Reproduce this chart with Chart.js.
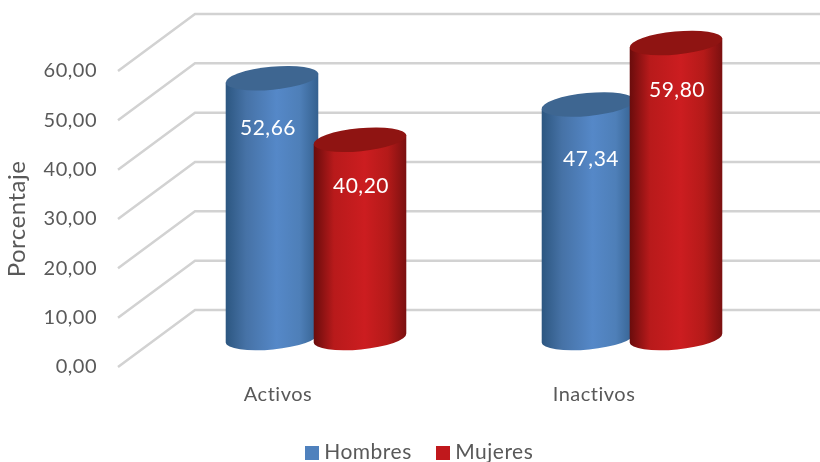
<!DOCTYPE html>
<html>
<head>
<meta charset="utf-8">
<style>
  html, body { margin: 0; padding: 0; background: #fff; }
  #wrap { position: relative; width: 820px; height: 462px; overflow: hidden; }
</style>
<script src="https://cdn.jsdelivr.net/npm/chart.js@4/dist/chart.umd.min.js"></script>
</head>
<body>
<div id="wrap"><canvas id="chart" width="820" height="462"></canvas></div>
<script>
const categories = ['Activos', 'Inactivos'];
const hombres = [52.66, 47.34];
const mujeres = [40.20, 59.80];
const yTicks = ['0,00', '10,00', '20,00', '30,00', '40,00', '50,00', '60,00'];

const FONT = 'Lato, sans-serif';
const TEXT = '#595959';

// profundidad del grafico 3D
const DEPTH_X = 77, DEPTH_Y = -57;
const BAR_X = 38, BAR_Y = -29;   // las barras van a media profundidad

const shades = [
  { stops: ['#2c5680', '#4672a6', '#5588c8', '#4e7fb8', '#34608e'], top: '#3e6691' },
  { stops: ['#690c0c', '#b81a1b', '#cc1d20', '#b41a19', '#7a1010'], top: '#8f1412' }
];
const stopAt = [0, 0.22, 0.55, 0.8, 1];
// ajuste fino de las etiquetas [serie][categoria] -> [dx, dy]
const labelShift = [[[-4, 2], [3, 7]], [[1, -1], [1, -1]]];

const tilt = -5.5 * Math.PI / 180;

function swatch(color) {
  const c = document.createElement('canvas');
  c.width = 14; c.height = 14;
  const g = c.getContext('2d');
  g.fillStyle = color;
  g.fillRect(0, 0, 14, 14);
  return c;
}

function drawCylinder(ctx, bar, shade) {
  const rx = bar.width / 2 + 2.5, ry = 11.5;
  const cx = bar.x + BAR_X;
  const top = bar.y + BAR_Y, bottom = bar.base + BAR_Y;
  const ex = rx * Math.cos(tilt), ey = rx * Math.sin(tilt);

  const grad = ctx.createLinearGradient(cx - rx, 0, cx + rx, 0);
  shade.stops.forEach((c, i) => grad.addColorStop(stopAt[i], c));

  ctx.save();
  ctx.beginPath();
  ctx.moveTo(cx - ex, top - ey);
  ctx.lineTo(cx - ex, bottom - ey);
  ctx.ellipse(cx, bottom, rx, ry, tilt, Math.PI, 0, true);
  ctx.lineTo(cx + ex, top + ey);
  ctx.closePath();
  ctx.fillStyle = grad;
  ctx.fill();

  ctx.beginPath();
  ctx.ellipse(cx, top, rx, ry, tilt, 0, Math.PI * 2);
  ctx.fillStyle = shade.top;
  ctx.fill();
  ctx.restore();
}

const plot3d = {
  id: 'plot3d',
  beforeUpdate(chart) {
    chart.ctx.letterSpacing = '0.5px';
  },
  afterLayout(chart) {
    chart.legend.left = 23;
    chart.legend.right = 820;
    chart.legend.top += 11;
    chart.legend.bottom += 11;
  },
  beforeDatasetsDraw(chart) {
    const { ctx, scales: { x, y } } = chart;
    ctx.save();
    ctx.strokeStyle = '#d2d2d2';
    ctx.lineWidth = 2.5;
    yTicks.forEach((t, i) => {
      const py = y.getPixelForTick(i);
      ctx.beginPath();
      ctx.moveTo(x.left - 2, py);
      ctx.lineTo(x.left - 2 + DEPTH_X, py + DEPTH_Y);
      ctx.lineTo(chart.width, py + DEPTH_Y);
      ctx.stroke();
    });
    ctx.restore();
    // Mujeres queda por delante de Hombres
    chart.data.datasets.forEach((ds, d) => {
      chart.getDatasetMeta(d).data.forEach(bar => drawCylinder(ctx, bar, shades[d]));
    });
  },
  beforeDatasetDraw() {
    return false;
  },
  afterDatasetsDraw(chart) {
    const ctx = chart.ctx;
    ctx.save();
    ctx.fillStyle = '#ffffff';
    ctx.font = '21px ' + FONT;
    ctx.textAlign = 'center';
    ctx.textBaseline = 'middle';
    chart.data.datasets.forEach((ds, d) => {
      chart.getDatasetMeta(d).data.forEach((bar, i) => {
        const txt = ds.data[i].toFixed(2).replace('.', ',');
        const [dx, dy] = labelShift[d][i];
        ctx.fillText(txt, bar.x + BAR_X + dx, bar.y + BAR_Y + 48 + dy);
      });
    });
    ctx.restore();
  }
};

new Chart(document.getElementById('chart'), {
  type: 'bar',
  data: {
    labels: categories,
    datasets: [
      { label: 'Hombres', data: hombres, backgroundColor: '#4f81bd', pointStyle: swatch('#4f81bd') },
      { label: 'Mujeres', data: mujeres, backgroundColor: '#c0181c', pointStyle: swatch('#c0181c') }
    ]
  },
  plugins: [plot3d],
  options: {
    responsive: false,
    animation: false,
    layout: { padding: { top: 71, right: 68, left: 0, bottom: 0 } },
    datasets: { bar: { categoryPercentage: 0.557, barPercentage: 1 } },
    plugins: {
      tooltip: { enabled: false },
      legend: {
        position: 'bottom',
        labels: {
          usePointStyle: true, pointStyleWidth: 4, boxHeight: 14, padding: 29,
          color: TEXT, font: { family: FONT, size: 21 }
        }
      }
    },
    scales: {
      x: {
        grid: { display: false },
        border: { display: false },
        ticks: { color: TEXT, font: { family: FONT, size: 20 }, padding: 8 },
        afterFit(s) { s.height = 35; }
      },
      y: {
        min: 0, max: 60,
        afterFit(s) { s.width = 120; },
        grid: { display: false },
        border: { display: false },
        title: { display: true, text: 'Porcentaje', color: TEXT, font: { family: FONT, size: 24 }, padding: { top: 3, bottom: 0 } },
        ticks: {
          stepSize: 10, padding: 15,
          color: TEXT, font: { family: FONT, size: 20 },
          callback: (v, i) => yTicks[i]
        }
      }
    }
  }
});
</script>
</body>
</html>
